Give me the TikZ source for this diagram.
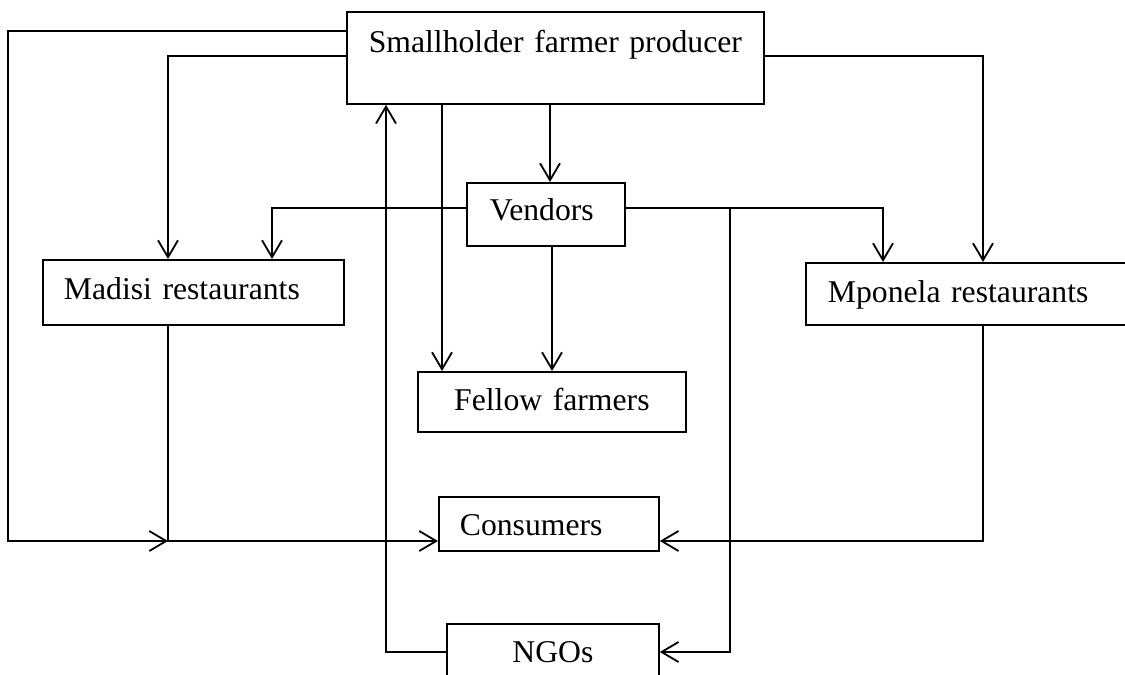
\documentclass[tikz,border=0pt]{standalone}
\usepackage{fontspec}
\setmainfont{Liberation Serif}
\usetikzlibrary{arrows.meta}
\tikzset{
  actor/.style={draw, line width=1.8pt, anchor=north west, inner ysep=0pt},
  flow/.style={line width=1.8pt, -{Straight Barb[length=17pt, width=20pt, line width=1.8pt]}}
}
\newcommand*{\PlaceActors}[1]{% #1 = list of name/left/top/textwidth/pad/above/below/align/words
  \foreach \who/\lx/\ty/\tw/\pad/\up/\down/\al/\words in {#1} {
    \node [actor, inner xsep=\pad pt, text width=\tw pt, text height=\up pt, text depth=\down pt, align=\al]
      (\who) at (\lx,\ty) {\words};
    }%
}

\begin{document}
\begin{tikzpicture}[x=1pt, y=-1pt, font=\fontsize{31.7}{38}\selectfont]
    \useasboundingbox (0,0) rectangle (1125,675);
    \clip (0,0) rectangle (1125,675);

    \PlaceActors{
        farmer/346/11/397/10/41/51/center/Smallholder farmer producer,
        vendors/466/182/112/23/38/25/left/Vendors,
        madisi/42/259/259/21/40/25/left/Madisi restaurants,
        mponela/805/262/286/22/40/22/left/Mponela restaurants,
        fellow/417/371/248/10/39/21/center/Fellow farmers,
        consumers/438/496/178/21/39/15/left/Consumers,
        ngos/446/623/192/10/39/40/center/NGOs
    }

    % bends of the long connectors
    \coordinate (wrail) at (8,31);
    \coordinate (join) at (168,541);
    \coordinate (erail) at (983,541);
    \coordinate (hub) at (730,208);
    \coordinate (srail) at (386,652);

    % from the producer
    \draw[flow] (farmer.west |- wrail) -- (wrail) |- (join);
    \draw[flow] ([yshift=-45pt]farmer.north west) -| (madisi.north -| join);
    \draw[flow] ([yshift=-45pt]farmer.north east) -| (mponela.north -| erail);
    \draw[flow] ([xshift=84pt]vendors.north west |- farmer.south) -- ([xshift=84pt]vendors.north west);
    \draw[flow] ([xshift=25pt]fellow.north west |- farmer.south) -- ([xshift=25pt]fellow.north west);

    % from the vendors
    \draw[flow] (vendors.west |- hub) -| ([xshift=230pt]madisi.north west);
    \draw[flow] (vendors.east |- hub) -| ([xshift=78pt]mponela.north west);
    \draw[flow] (hub) |- (ngos.east |- srail);
    \draw[flow] ([xshift=135pt]fellow.north west |- vendors.south) -- ([xshift=135pt]fellow.north west);

    % to the consumers and back to the producer
    \draw[flow] (madisi.south -| join) -- (join) -- (consumers.west |- join);
    \draw[flow] (mponela.south -| erail) -- (erail) -- (consumers.east |- erail);
    \draw[flow] (ngos.west |- srail) -- (srail) -- (srail |- farmer.south);
\end{tikzpicture}
\end{document}
